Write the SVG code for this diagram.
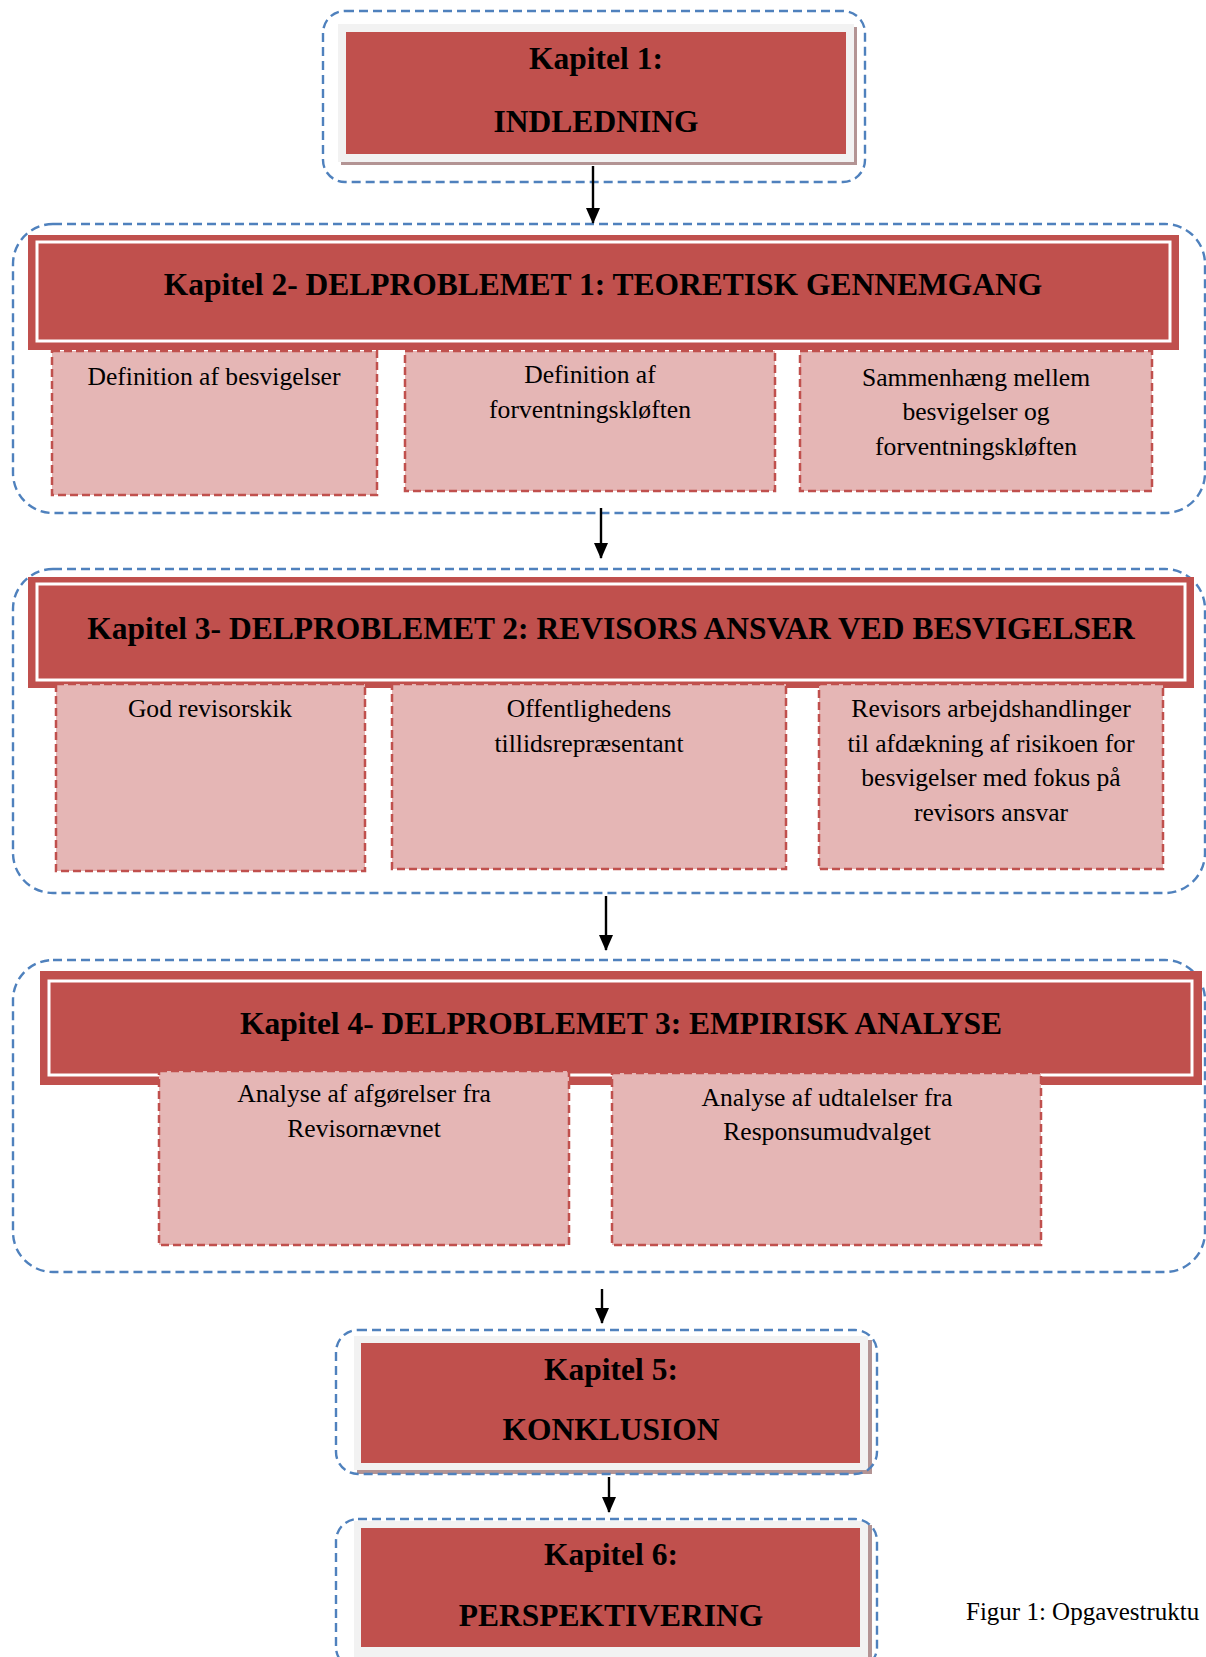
<svg xmlns="http://www.w3.org/2000/svg" width="1206" height="1657" viewBox="0 0 1206 1657">
<style>
.cont{fill:none;stroke:#4f81bd;stroke-width:2.4;stroke-dasharray:9 5}
.red{fill:#c0504d}
.wline{fill:none;stroke:#ffffff;stroke-width:3}
.gray{fill:#f2f2f2}
.shadow{fill:#b39494}
.sub{fill:#e5b6b5;stroke:#c0504d;stroke-width:2.5;stroke-dasharray:8 4}
.t{font-family:"Liberation Serif","Times New Roman",serif;font-weight:bold;font-size:31.5px;fill:#000;text-anchor:middle}
.s{font-family:"Liberation Serif","Times New Roman",serif;font-size:25.6px;fill:#000;text-anchor:middle}
.cap{font-family:"Liberation Serif","Times New Roman",serif;font-size:25px;fill:#000}
.conn{stroke:#000;stroke-width:2.4;fill:none}
</style>
<defs>
<marker id="ah" markerWidth="16" markerHeight="14" refX="15" refY="7" orient="auto" markerUnits="userSpaceOnUse" viewBox="0 0 16 14">
<path d="M0,0 L16,7 L0,14 Z" fill="#000"/>
</marker>
</defs>
<rect width="1206" height="1657" fill="#ffffff"/>

<!-- Chapter 1 -->
<g id="kapitel1">
<rect class="shadow" x="341" y="27" width="516" height="138"/>
<rect class="gray" x="338" y="24" width="516" height="138"/>
<rect class="red" x="346" y="32" width="500" height="122"/>
<text class="t" x="596" y="69">Kapitel 1:</text>
<text class="t" x="596" y="132">INDLEDNING</text>
<rect class="cont" x="323" y="11" width="542" height="171" rx="22" ry="22"/>
</g>

<!-- Chapter 2 -->
<g id="kapitel2">
<rect class="cont" x="13" y="224" width="1192" height="289" rx="40" ry="40"/>
<rect class="red" x="28" y="235" width="1151" height="115"/>
<rect class="wline" x="37" y="242" width="1133" height="99"/>
<text class="t" x="603" y="295">Kapitel 2- DELPROBLEMET 1: TEORETISK GENNEMGANG</text>
</g>
<g id="k2-box1">
<rect class="sub" x="52" y="351" width="325" height="144"/>
<text class="s" x="214" y="385">Definition af besvigelser</text>
</g>
<g id="k2-box2">
<rect class="sub" x="405" y="351" width="370" height="140"/>
<text class="s" x="590" y="383">Definition af</text>
<text class="s" x="590" y="418">forventningskløften</text>
</g>
<g id="k2-box3">
<rect class="sub" x="800" y="351" width="352" height="140"/>
<text class="s" x="976" y="386">Sammenhæng mellem</text>
<text class="s" x="976" y="420">besvigelser og</text>
<text class="s" x="976" y="455">forventningskløften</text>
</g>

<!-- Chapter 3 -->
<g id="kapitel3">
<rect class="cont" x="13" y="569" width="1192" height="324" rx="40" ry="40"/>
<rect class="red" x="28" y="577" width="1166" height="111"/>
<rect class="wline" x="37" y="584" width="1148" height="96"/>
<text class="t" x="611" y="639">Kapitel 3- DELPROBLEMET 2: REVISORS ANSVAR VED BESVIGELSER</text>
</g>
<g id="k3-box1">
<rect class="sub" x="56" y="684" width="309" height="187"/>
<text class="s" x="210" y="717">God revisorskik</text>
</g>
<g id="k3-box2">
<rect class="sub" x="392" y="684" width="394" height="185"/>
<text class="s" x="589" y="717">Offentlighedens</text>
<text class="s" x="589" y="752">tillidsrepræsentant</text>
</g>
<g id="k3-box3">
<rect class="sub" x="819" y="684" width="344" height="185"/>
<text class="s" x="991" y="717">Revisors arbejdshandlinger</text>
<text class="s" x="991" y="752">til afdækning af risikoen for</text>
<text class="s" x="991" y="786">besvigelser med fokus på</text>
<text class="s" x="991" y="821">revisors ansvar</text>
</g>

<!-- Chapter 4 -->
<g id="kapitel4">
<rect class="cont" x="13" y="960" width="1192" height="312" rx="40" ry="40"/>
<rect class="red" x="40" y="971" width="1162" height="114"/>
<rect class="wline" x="49" y="981" width="1143" height="94"/>
<text class="t" x="621" y="1034">Kapitel 4- DELPROBLEMET 3: EMPIRISK ANALYSE</text>
</g>
<g id="k4-box1">
<rect class="sub" x="159" y="1071" width="410" height="174"/>
<text class="s" x="364" y="1102">Analyse af afgørelser fra</text>
<text class="s" x="364" y="1137">Revisornævnet</text>
</g>
<g id="k4-box2">
<rect class="sub" x="612" y="1073" width="429" height="172"/>
<text class="s" x="827" y="1106">Analyse af udtalelser fra</text>
<text class="s" x="827" y="1140">Responsumudvalget</text>
</g>

<!-- Chapter 5 -->
<g id="kapitel5">
<rect class="shadow" x="357" y="1340" width="515" height="134"/>
<rect class="gray" x="354" y="1336" width="514" height="134"/>
<rect class="red" x="361" y="1343" width="499" height="120"/>
<text class="t" x="611" y="1380">Kapitel 5:</text>
<text class="t" x="611" y="1440">KONKLUSION</text>
<rect class="cont" x="336" y="1330" width="541" height="144" rx="22" ry="22"/>
</g>

<!-- Chapter 6 -->
<g id="kapitel6">
<rect class="shadow" x="357" y="1525" width="515" height="140"/>
<rect class="gray" x="354" y="1521" width="514" height="140"/>
<rect class="red" x="361" y="1528" width="499" height="119"/>
<text class="t" x="611" y="1565">Kapitel 6:</text>
<text class="t" x="611" y="1626">PERSPEKTIVERING</text>
<rect class="cont" x="336" y="1519" width="541" height="150" rx="22" ry="22"/>
</g>

<g id="caption">
<text class="cap" x="966" y="1620">Figur 1: Opgavestruktu</text>
</g>

<!-- Connectors -->
<g id="connectors">
<line class="conn" x1="593" y1="166" x2="593" y2="223" marker-end="url(#ah)"/>
<line class="conn" x1="601" y1="508" x2="601" y2="558" marker-end="url(#ah)"/>
<line class="conn" x1="606" y1="896" x2="606" y2="950" marker-end="url(#ah)"/>
<line class="conn" x1="602" y1="1289" x2="602" y2="1323" marker-end="url(#ah)"/>
<line class="conn" x1="609" y1="1477" x2="609" y2="1512" marker-end="url(#ah)"/>
</g>
</svg>
